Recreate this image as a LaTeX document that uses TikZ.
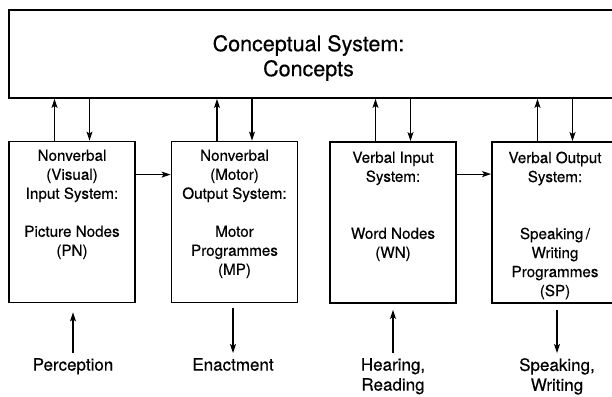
\documentclass[tikz,border=0pt]{standalone}
\usepackage{fontspec}
\setmainfont{TeX Gyre Heros}[FakeBold=0.4]
\usetikzlibrary{arrows.meta,calc}
\begin{document}
\begin{tikzpicture}[x=1pt,y=-1pt,
  sysbox/.style={draw, line width=1.8pt, minimum width=126pt, minimum height=161pt, inner sep=0pt},
  topbox/.style={draw, line width=1.8pt, minimum width=606pt, minimum height=88pt, inner sep=0pt},
  boxtext/.style={align=center, inner sep=0pt, anchor=north, font=\fontsize{15.2}{19}\selectfont},
  titletext/.style={align=center, inner sep=0pt, font=\fontsize{21.5}{25}\selectfont},
  labeltext/.style={align=center, inner sep=0pt, anchor=north, font=\fontsize{17}{20}\selectfont},
  arr/.style={line width=1.2pt, -{Stealth[length=9pt,width=6pt,inset=2pt]}}
]
\useasboundingbox (0,0) rectangle (612,396);
\clip (0,0) rectangle (612,396);
\fill[white] (0,0) rectangle (612,396);

% conceptual system
\node[topbox] (cs) at (312,54) {};
\node[titletext] (cst) at (308.5,58) {Conceptual System:\\Concepts};

% four systems
\node[sysbox] (b1) at (72,222) {};
\node[sysbox] (b2) at (234.5,222) {};
\node[sysbox] (b3) at (393,222.5) {};
\node[sysbox] (b4) at (555,222.5) {};

\node[boxtext] (t1) at (72,149.5) {Nonverbal\\(Visual)\\Input System:\\[19pt]Picture Nodes\\(PN)};
\node[boxtext] (t2) at (234.5,149.5) {Nonverbal\\(Motor)\\Output System:\\[19pt]Motor\\Programmes\\(MP)};
\node[boxtext] (t3) at (393,151.5) {Verbal Input\\System:\\[38pt]Word Nodes\\(WN)};
\node[boxtext] (t4) at (555,151.5) {Verbal Output\\System:\\[38pt]Speaking\,/\\Writing\\Programmes\\(SP)};

% connections to conceptual system
\foreach \b in {b1,b2,b3,b4}{
  \coordinate (\b u) at ([xshift=-17.5pt]\b.north);
  \coordinate (\b d) at ([xshift=17.5pt]\b.north);
  \draw[arr] (\b u) -- (\b u |- cs.south);
  \draw[arr] (\b d |- cs.south) -- (\b d);
}

% horizontal connections
\coordinate (h1) at ($(b1.north east)+(0,34)$);
\coordinate (h3) at ($(b3.north east)+(0,33)$);
\draw[arr] (h1) -- (h1 -| b2.west);
\draw[arr] (h3) -- (h3 -| b4.west);

% bottom labels
\node[labeltext] (perc) at (73,358) {Perception};
\node[labeltext] (enact) at (233,358) {Enactment};
\node[labeltext] (hear) at (393,358) {Hearing,\\Reading};
\node[labeltext] (speak) at (557,358) {Speaking,\\Writing};

\draw[arr, shorten <=5pt, shorten >=9pt] (perc.north) -- (perc.north |- b1.south);
\draw[arr, shorten <=5pt, shorten >=5pt] (enact.north |- b2.south) -- (enact.north);
\draw[arr, shorten <=5pt, shorten >=6pt] (hear.north) -- (hear.north |- b3.south);
\draw[arr, shorten <=6pt, shorten >=5pt] (speak.north |- b4.south) -- (speak.north);
\end{tikzpicture}
\end{document}
